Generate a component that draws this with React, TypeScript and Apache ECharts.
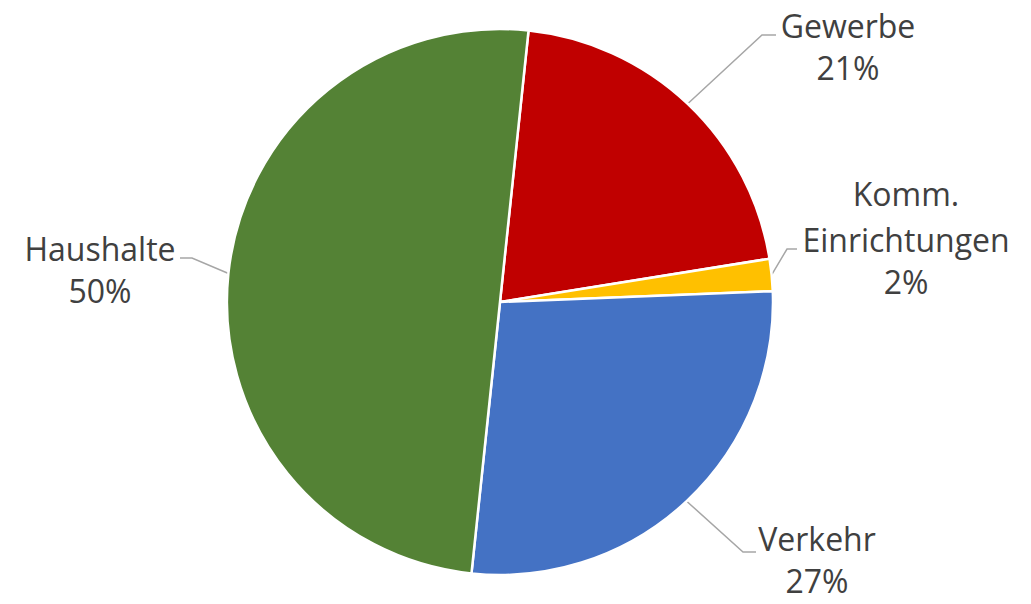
import React, { useEffect, useRef } from "react";
import * as echarts from "echarts";

const categories = ["Gewerbe", "Komm.\nEinrichtungen", "Verkehr", "Haushalte"];
const values = [20.8, 1.9, 27.3, 50.0];
const colors = ["#C00000", "#FFC000", "#4472C4", "#548235"];
// label block [centre x, top y] and elbow points, per slice
const labelAnchors = [
  [848, 2],
  [906, 170],
  [817, 515],
  [100, 225],
];
const elbows = [
  [[762, 35], [776, 35]],
  [[787, 249], [797, 249]],
  [[743, 552], [756, 552]],
  [[192, 258], [180, 258]],
];

export default function App() {
  const ref = useRef<HTMLDivElement>(null);
  useEffect(() => {
    if (!ref.current) return;
    const chart = echarts.init(ref.current, null, { renderer: "svg" });
    chart.setOption({
      animation: false,
      backgroundColor: "#ffffff",
      series: [
        {
          type: "pie",
          center: [500, 302],
          radius: 273,
          startAngle: 84,
          clockwise: true,
          avoidLabelOverlap: false,
          data: categories.map((name, i) => ({
            name,
            value: values[i],
            itemStyle: { color: colors[i] },
          })),
          itemStyle: { borderColor: "#ffffff", borderWidth: 2.5 },
          label: {
            show: true,
            position: "outside",
            formatter: (p: any) =>
              p.name
                .split("\n")
                .map((s: string) => `{n|${s}}`)
                .join("\n") + `\n{p|${Math.round(p.percent)}%}`,
            fontFamily: "Open Sans",
            fontSize: 32,
            color: "#404040",
            align: "center",
            rich: {
              n: {
                fontFamily: "Open Sans",
                fontSize: 32,
                lineHeight: 46,
                color: "#404040",
                align: "center",
              },
              p: {
                fontFamily: "Open Sans",
                fontSize: 32,
                lineHeight: 34,
                padding: [4, 0, 0, 0],
                color: "#404040",
                align: "center",
              },
            },
          },
          labelLine: {
            show: true,
            length: 20,
            length2: 10,
            lineStyle: { color: "#A6A6A6", width: 1.5 },
          },
          labelLayout: (params: any) => {
            const i = params.dataIndex;
            const start = params.labelLinePoints ? params.labelLinePoints[0] : elbows[i][0];
            return {
              x: labelAnchors[i][0],
              y: labelAnchors[i][1],
              align: "center",
              verticalAlign: "top",
              labelLinePoints: [start, elbows[i][0], elbows[i][1]],
            };
          },
          emphasis: { disabled: true },
        },
      ],
    });
    return () => chart.dispose();
  }, []);
  return (
    <div
      ref={ref}
      style={{ position: "fixed", left: 0, top: 0, width: 1031, height: 604 }}
    />
  );
}
